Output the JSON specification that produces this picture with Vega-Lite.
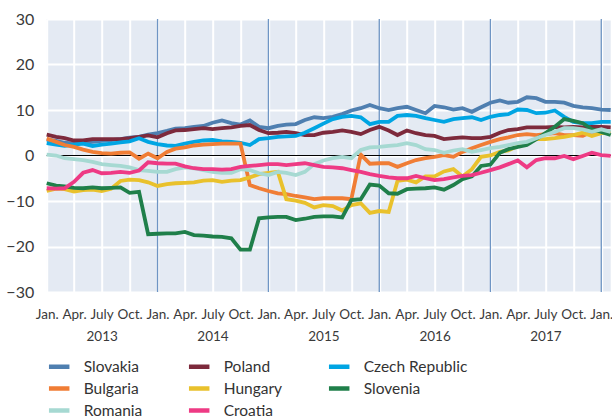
{
  "$schema": "https://vega.github.io/schema/vega-lite/v6.json",
  "width": 564,
  "height": 273,
  "autosize": {"type": "none"},
  "padding": {"left": 46.7, "top": 19, "right": 1.3, "bottom": 128},
  "background": "white",
  "config": {"view": {"fill": "#e4eaf3", "stroke": null}, "font": "Lato"},
  "datasets": {
    "years": [{"m": "2014-01-01"}, {"m": "2015-01-01"}, {"m": "2016-01-01"}, {"m": "2017-01-01"}, {"m": "2018-01-01"}],
    "rates": [
      {"m":"2013-01-01","Slovakia":3.5,"Poland":4.6,"Czech Republic":2.7,"Bulgaria":3.7,"Hungary":-7.8,"Slovenia":-6.1,"Romania":0.2,"Croatia":-7.2},
      {"m":"2013-02-01","Slovakia":3.2,"Poland":4.1,"Czech Republic":2.4,"Bulgaria":3.0,"Hungary":-7.3,"Slovenia":-6.6,"Romania":0.0,"Croatia":-7.3},
      {"m":"2013-03-01","Slovakia":2.8,"Poland":3.8,"Czech Republic":2.1,"Bulgaria":2.3,"Hungary":-7.4,"Slovenia":-6.8,"Romania":-0.6,"Croatia":-7.2},
      {"m":"2013-04-01","Slovakia":2.6,"Poland":3.3,"Czech Republic":2.4,"Bulgaria":1.9,"Hungary":-7.9,"Slovenia":-7.1,"Romania":-0.8,"Croatia":-5.8},
      {"m":"2013-05-01","Slovakia":2.8,"Poland":3.3,"Czech Republic":2.6,"Bulgaria":1.3,"Hungary":-7.6,"Slovenia":-7.2,"Romania":-1.0,"Croatia":-3.8},
      {"m":"2013-06-01","Slovakia":3.0,"Poland":3.6,"Czech Republic":2.1,"Bulgaria":0.8,"Hungary":-7.5,"Slovenia":-7.0,"Romania":-1.4,"Croatia":-3.2},
      {"m":"2013-07-01","Slovakia":3.2,"Poland":3.6,"Czech Republic":2.4,"Bulgaria":0.5,"Hungary":-7.8,"Slovenia":-7.2,"Romania":-1.9,"Croatia":-3.9},
      {"m":"2013-08-01","Slovakia":3.4,"Poland":3.6,"Czech Republic":2.6,"Bulgaria":0.4,"Hungary":-7.3,"Slovenia":-7.1,"Romania":-2.1,"Croatia":-3.8},
      {"m":"2013-09-01","Slovakia":3.6,"Poland":3.6,"Czech Republic":2.9,"Bulgaria":0.6,"Hungary":-5.6,"Slovenia":-7.0,"Romania":-2.3,"Croatia":-3.6},
      {"m":"2013-10-01","Slovakia":3.9,"Poland":3.8,"Czech Republic":3.1,"Bulgaria":0.7,"Hungary":-5.3,"Slovenia":-8.2,"Romania":-2.6,"Croatia":-3.8},
      {"m":"2013-11-01","Slovakia":4.1,"Poland":4.1,"Czech Republic":3.8,"Bulgaria":-0.7,"Hungary":-5.4,"Slovenia":-8.0,"Romania":-3.2,"Croatia":-3.3},
      {"m":"2013-12-01","Slovakia":4.6,"Poland":4.4,"Czech Republic":3.0,"Bulgaria":0.4,"Hungary":-5.9,"Slovenia":-17.3,"Romania":-3.4,"Croatia":-1.5},
      {"m":"2014-01-01","Slovakia":4.9,"Poland":4.0,"Czech Republic":2.5,"Bulgaria":-0.6,"Hungary":-6.7,"Slovenia":-17.2,"Romania":-3.6,"Croatia":-1.7},
      {"m":"2014-02-01","Slovakia":5.4,"Poland":4.9,"Czech Republic":2.2,"Bulgaria":0.8,"Hungary":-6.3,"Slovenia":-17.1,"Romania":-3.6,"Croatia":-1.8},
      {"m":"2014-03-01","Slovakia":5.9,"Poland":5.5,"Czech Republic":2.1,"Bulgaria":1.5,"Hungary":-6.1,"Slovenia":-17.1,"Romania":-3.0,"Croatia":-1.8},
      {"m":"2014-04-01","Slovakia":6.0,"Poland":5.6,"Czech Republic":2.6,"Bulgaria":1.8,"Hungary":-6.0,"Slovenia":-16.8,"Romania":-2.6,"Croatia":-2.4},
      {"m":"2014-05-01","Slovakia":6.3,"Poland":5.8,"Czech Republic":3.0,"Bulgaria":2.2,"Hungary":-5.9,"Slovenia":-17.5,"Romania":-2.8,"Croatia":-2.8},
      {"m":"2014-06-01","Slovakia":6.5,"Poland":6.0,"Czech Republic":3.3,"Bulgaria":2.4,"Hungary":-5.5,"Slovenia":-17.6,"Romania":-3.2,"Croatia":-3.0},
      {"m":"2014-07-01","Slovakia":7.2,"Poland":5.8,"Czech Republic":3.4,"Bulgaria":2.5,"Hungary":-5.4,"Slovenia":-17.8,"Romania":-3.6,"Croatia":-3.0},
      {"m":"2014-08-01","Slovakia":7.7,"Poland":6.0,"Czech Republic":3.1,"Bulgaria":2.6,"Hungary":-5.8,"Slovenia":-17.9,"Romania":-3.8,"Croatia":-3.1},
      {"m":"2014-09-01","Slovakia":7.1,"Poland":6.2,"Czech Republic":3.0,"Bulgaria":2.6,"Hungary":-5.5,"Slovenia":-18.2,"Romania":-3.8,"Croatia":-3.0},
      {"m":"2014-10-01","Slovakia":6.8,"Poland":6.5,"Czech Republic":2.8,"Bulgaria":2.6,"Hungary":-5.4,"Slovenia":-20.7,"Romania":-3.0,"Croatia":-2.5},
      {"m":"2014-11-01","Slovakia":7.7,"Poland":6.7,"Czech Republic":2.3,"Bulgaria":-6.5,"Hungary":-4.8,"Slovenia":-20.7,"Romania":-3.2,"Croatia":-2.3},
      {"m":"2014-12-01","Slovakia":6.3,"Poland":5.6,"Czech Republic":3.6,"Bulgaria":-7.2,"Hungary":-4.1,"Slovenia":-13.8,"Romania":-3.9,"Croatia":-2.1},
      {"m":"2015-01-01","Slovakia":6.0,"Poland":4.9,"Czech Republic":3.8,"Bulgaria":-7.8,"Hungary":-3.8,"Slovenia":-13.6,"Romania":-4.3,"Croatia":-1.9},
      {"m":"2015-02-01","Slovakia":6.5,"Poland":5.0,"Czech Republic":4.1,"Bulgaria":-8.3,"Hungary":-3.6,"Slovenia":-13.5,"Romania":-3.6,"Croatia":-1.9},
      {"m":"2015-03-01","Slovakia":6.8,"Poland":5.2,"Czech Republic":4.2,"Bulgaria":-8.5,"Hungary":-9.6,"Slovenia":-13.5,"Romania":-3.8,"Croatia":-2.1},
      {"m":"2015-04-01","Slovakia":6.9,"Poland":4.9,"Czech Republic":4.3,"Bulgaria":-8.9,"Hungary":-9.9,"Slovenia":-14.2,"Romania":-4.3,"Croatia":-1.9},
      {"m":"2015-05-01","Slovakia":7.8,"Poland":4.5,"Czech Republic":5.0,"Bulgaria":-9.2,"Hungary":-10.4,"Slovenia":-13.9,"Romania":-3.6,"Croatia":-1.7},
      {"m":"2015-06-01","Slovakia":8.4,"Poland":4.5,"Czech Republic":6.0,"Bulgaria":-9.6,"Hungary":-11.4,"Slovenia":-13.5,"Romania":-1.9,"Croatia":-2.1},
      {"m":"2015-07-01","Slovakia":8.2,"Poland":5.0,"Czech Republic":7.0,"Bulgaria":-9.4,"Hungary":-10.9,"Slovenia":-13.4,"Romania":-1.1,"Croatia":-2.5},
      {"m":"2015-08-01","Slovakia":8.5,"Poland":5.2,"Czech Republic":8.0,"Bulgaria":-9.4,"Hungary":-11.1,"Slovenia":-13.4,"Romania":-0.6,"Croatia":-2.6},
      {"m":"2015-09-01","Slovakia":9.1,"Poland":5.5,"Czech Republic":8.5,"Bulgaria":-9.4,"Hungary":-12.1,"Slovenia":-13.6,"Romania":-0.3,"Croatia":-2.8},
      {"m":"2015-10-01","Slovakia":9.9,"Poland":5.2,"Czech Republic":8.7,"Bulgaria":-9.6,"Hungary":-10.9,"Slovenia":-9.8,"Romania":-0.6,"Croatia":-3.2},
      {"m":"2015-11-01","Slovakia":10.4,"Poland":4.7,"Czech Republic":8.4,"Bulgaria":0.2,"Hungary":-10.5,"Slovenia":-9.6,"Romania":1.2,"Croatia":-3.6},
      {"m":"2015-12-01","Slovakia":11.1,"Poland":5.6,"Czech Republic":6.9,"Bulgaria":-1.8,"Hungary":-12.6,"Slovenia":-6.4,"Romania":1.8,"Croatia":-4.1},
      {"m":"2016-01-01","Slovakia":10.4,"Poland":6.3,"Czech Republic":7.4,"Bulgaria":-1.7,"Hungary":-12.2,"Slovenia":-6.6,"Romania":1.9,"Croatia":-4.5},
      {"m":"2016-02-01","Slovakia":10.0,"Poland":5.5,"Czech Republic":7.4,"Bulgaria":-1.7,"Hungary":-12.4,"Slovenia":-8.3,"Romania":2.1,"Croatia":-4.8},
      {"m":"2016-03-01","Slovakia":10.4,"Poland":4.5,"Czech Republic":8.7,"Bulgaria":-2.5,"Hungary":-5.6,"Slovenia":-8.4,"Romania":2.3,"Croatia":-5.0},
      {"m":"2016-04-01","Slovakia":10.7,"Poland":5.5,"Czech Republic":8.9,"Bulgaria":-1.7,"Hungary":-5.3,"Slovenia":-7.4,"Romania":2.7,"Croatia":-5.0},
      {"m":"2016-05-01","Slovakia":10.0,"Poland":4.9,"Czech Republic":8.7,"Bulgaria":-1.0,"Hungary":-5.9,"Slovenia":-7.3,"Romania":2.3,"Croatia":-4.5},
      {"m":"2016-06-01","Slovakia":9.3,"Poland":4.5,"Czech Republic":8.2,"Bulgaria":-0.6,"Hungary":-4.6,"Slovenia":-7.2,"Romania":1.4,"Croatia":-5.0},
      {"m":"2016-07-01","Slovakia":10.9,"Poland":4.3,"Czech Republic":7.8,"Bulgaria":-0.3,"Hungary":-4.6,"Slovenia":-7.0,"Romania":1.2,"Croatia":-5.4},
      {"m":"2016-08-01","Slovakia":10.6,"Poland":3.6,"Czech Republic":7.4,"Bulgaria":0.1,"Hungary":-3.5,"Slovenia":-7.5,"Romania":0.6,"Croatia":-5.2},
      {"m":"2016-09-01","Slovakia":10.1,"Poland":3.8,"Czech Republic":8.0,"Bulgaria":-0.3,"Hungary":-3.0,"Slovenia":-6.5,"Romania":1.1,"Croatia":-4.8},
      {"m":"2016-10-01","Slovakia":10.4,"Poland":4.0,"Czech Republic":8.2,"Bulgaria":0.8,"Hungary":-4.6,"Slovenia":-5.2,"Romania":1.4,"Croatia":-4.5},
      {"m":"2016-11-01","Slovakia":9.6,"Poland":3.8,"Czech Republic":8.4,"Bulgaria":1.6,"Hungary":-3.0,"Slovenia":-4.6,"Romania":0.8,"Croatia":-4.3},
      {"m":"2016-12-01","Slovakia":10.6,"Poland":3.8,"Czech Republic":7.8,"Bulgaria":2.3,"Hungary":-0.3,"Slovenia":-2.3,"Romania":1.2,"Croatia":-3.8},
      {"m":"2017-01-01","Slovakia":11.6,"Poland":4.1,"Czech Republic":8.5,"Bulgaria":3.0,"Hungary":0.0,"Slovenia":-2.0,"Romania":1.6,"Croatia":-3.2},
      {"m":"2017-02-01","Slovakia":12.1,"Poland":5.0,"Czech Republic":8.9,"Bulgaria":3.6,"Hungary":0.8,"Slovenia":0.6,"Romania":1.9,"Croatia":-2.6},
      {"m":"2017-03-01","Slovakia":11.6,"Poland":5.6,"Czech Republic":9.1,"Bulgaria":4.0,"Hungary":1.1,"Slovenia":1.4,"Romania":2.3,"Croatia":-1.9},
      {"m":"2017-04-01","Slovakia":11.8,"Poland":5.8,"Czech Republic":10.1,"Bulgaria":4.5,"Hungary":2.1,"Slovenia":1.9,"Romania":2.7,"Croatia":-1.1},
      {"m":"2017-05-01","Slovakia":12.8,"Poland":6.2,"Czech Republic":10.0,"Bulgaria":4.7,"Hungary":2.8,"Slovenia":2.3,"Romania":3.0,"Croatia":-2.6},
      {"m":"2017-06-01","Slovakia":12.6,"Poland":6.2,"Czech Republic":9.3,"Bulgaria":4.5,"Hungary":3.6,"Slovenia":3.6,"Romania":3.8,"Croatia":-1.0},
      {"m":"2017-07-01","Slovakia":11.8,"Poland":6.2,"Czech Republic":9.4,"Bulgaria":4.7,"Hungary":3.6,"Slovenia":4.9,"Romania":4.5,"Croatia":-0.6},
      {"m":"2017-08-01","Slovakia":11.8,"Poland":6.3,"Czech Republic":9.9,"Bulgaria":4.9,"Hungary":3.8,"Slovenia":6.3,"Romania":5.2,"Croatia":-0.6},
      {"m":"2017-09-01","Slovakia":11.6,"Poland":6.2,"Czech Republic":8.5,"Bulgaria":4.5,"Hungary":4.1,"Slovenia":8.0,"Romania":6.0,"Croatia":-0.1},
      {"m":"2017-10-01","Slovakia":10.9,"Poland":6.3,"Czech Republic":7.4,"Bulgaria":4.5,"Hungary":4.5,"Slovenia":7.6,"Romania":6.0,"Croatia":-0.8},
      {"m":"2017-11-01","Slovakia":10.6,"Poland":6.2,"Czech Republic":7.1,"Bulgaria":4.3,"Hungary":5.0,"Slovenia":7.1,"Romania":5.75,"Croatia":-0.1},
      {"m":"2017-12-01","Slovakia":10.4,"Poland":6.3,"Czech Republic":7.1,"Bulgaria":5.2,"Hungary":4.3,"Slovenia":5.75,"Romania":5.2,"Croatia":0.6},
      {"m":"2018-01-01","Slovakia":10.1,"Poland":6.3,"Czech Republic":7.4,"Bulgaria":5.0,"Hungary":4.9,"Slovenia":5.2,"Romania":5.75,"Croatia":0.1},
      {"m":"2018-02-01","Slovakia":10.0,"Poland":6.2,"Czech Republic":7.4,"Bulgaria":5.2,"Hungary":5.0,"Slovenia":4.5,"Romania":5.2,"Croatia":-0.1}
    ]
  },
  "layer": [
    {
      "data": {"name": "years"},
      "mark": {"type": "rule", "color": "#6f95c4", "strokeWidth": 1.3},
      "encoding": {
        "x": {
          "field": "m", "type": "temporal",
          "scale": {"type": "utc", "domain": [{"year": 2013, "month": 1, "date": 1, "utc": true}, {"year": 2018, "month": 2, "date": 1, "utc": true}]}
        }
      }
    },
    {
      "data": {"values": [{"ref": "zero"}]},
      "mark": {"type": "rule", "color": "#000000", "strokeWidth": 1},
      "encoding": {"y": {"datum": 0}}
    },
    {
      "data": {"name": "rates"},
      "transform": [{"fold": ["Slovakia", "Poland", "Czech Republic", "Bulgaria", "Hungary", "Slovenia", "Romania", "Croatia"], "as": ["country", "value"]}],
      "mark": {"type": "line", "strokeWidth": 3.8},
      "encoding": {
        "x": {
          "field": "m", "type": "temporal",
          "scale": {"type": "utc", "domain": [{"year": 2013, "month": 1, "date": 1, "utc": true}, {"year": 2018, "month": 2, "date": 1, "utc": true}]},
          "axis": {
            "title": null, "domain": false, "ticks": false, "tickSize": 0,
            "tickCount": {"interval": "month", "step": 3},
            "grid": true, "gridColor": "#ffffff", "gridWidth": 2, "gridOpacity": 1,
            "labelExpr": "utcmonth(datum.value) == 0 ? 'Jan.' : utcmonth(datum.value) == 3 ? 'Apr.' : utcmonth(datum.value) == 6 ? ['July', utcFormat(datum.value, '%Y')] : 'Oct.'",
            "labelFont": "Lato", "labelFontSize": 13.5, "labelColor": "#3a3a3a",
            "labelPadding": 15, "labelLineHeight": 22,
            "labelOverlap": false, "labelFlush": false, "labelBound": false
          }
        },
        "y": {
          "field": "value", "type": "quantitative",
          "scale": {"domain": [-30, 30], "nice": false, "zero": false},
          "axis": {
            "title": null, "domain": false, "ticks": false, "tickSize": 0,
            "values": [-30, -20, -10, 0, 10, 20, 30],
            "grid": true, "gridColor": "#ffffff", "gridWidth": 2, "gridOpacity": 1,
            "labelFont": "Lato", "labelFontSize": 16, "labelColor": "#3a3a3a", "labelPadding": 13
          }
        },
        "color": {
          "field": "country", "type": "nominal",
          "scale": {
            "domain": ["Slovakia", "Poland", "Czech Republic", "Bulgaria", "Hungary", "Slovenia", "Romania", "Croatia"],
            "range": ["#4f7fb0", "#7d2a3c", "#00a5e3", "#f07d35", "#e9c12c", "#1f7f4a", "#a6d9d2", "#ee3a84"]
          },
          "legend": {
            "orient": "bottom", "direction": "horizontal", "columns": 3, "title": null,
            "symbolType": "stroke", "symbolStrokeWidth": 4.5, "symbolSize": 420,
            "labelFont": "Lato", "labelFontSize": 15.5, "labelColor": "#333333", "labelOffset": 12,
            "columnPadding": 37, "rowPadding": 0, "gridAlign": "each", "offset": 11, "labelLimit": 0
          }
        }
      }
    }
  ]
}
